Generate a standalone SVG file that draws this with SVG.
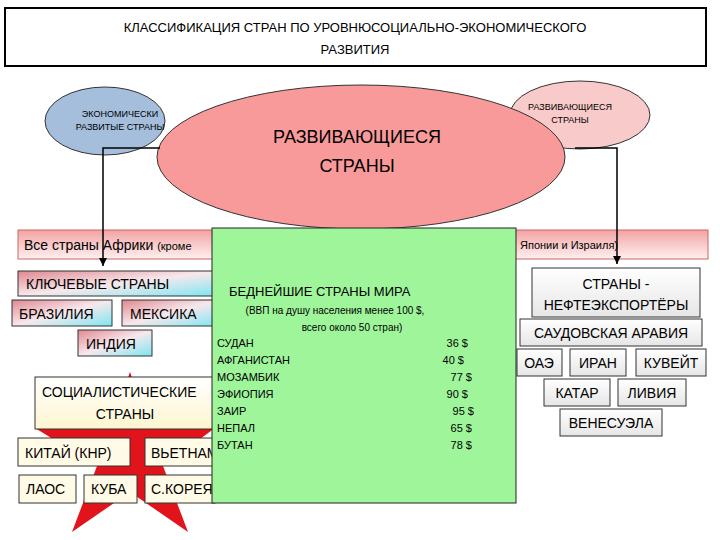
<svg xmlns="http://www.w3.org/2000/svg" width="720" height="540" viewBox="0 0 720 540">
<defs>
<linearGradient id="pk" x1="0" y1="0" x2="0" y2="1"><stop offset="0" stop-color="#f2a3a3"/><stop offset="1" stop-color="#fff0f0"/></linearGradient>
<linearGradient id="cy" x1="0" y1="0" x2="1" y2="1"><stop offset="0" stop-color="#e08890"/><stop offset="0.5" stop-color="#f7e8ec"/><stop offset="1" stop-color="#7de6f2"/></linearGradient>
<linearGradient id="gr" x1="0" y1="0" x2="0" y2="1"><stop offset="0" stop-color="#ffffff"/><stop offset="1" stop-color="#e6e6e6"/></linearGradient>
<linearGradient id="yl" x1="0" y1="0" x2="0" y2="1"><stop offset="0" stop-color="#ffffff"/><stop offset="1" stop-color="#fdf6d0"/></linearGradient>
<marker id="ar" markerWidth="8" markerHeight="8" refX="8" refY="4" orient="auto" markerUnits="userSpaceOnUse"><path d="M0,0 L8,4 L0,8 z" fill="#000"/></marker>
</defs>
<style>
text{font-family:"Liberation Sans","DejaVu Sans",sans-serif;fill:#000}
.b{stroke:#333;stroke-width:1}
.t{font-size:14px}
.s{font-size:11px}
</style>
<rect width="720" height="540" fill="#fff"/>
<g id="title"><rect x="5" y="8" width="701" height="58" fill="#fff" stroke="#000" stroke-width="2"/>
<text x="355" y="32" text-anchor="middle" font-size="13">КЛАССИФИКАЦИЯ СТРАН ПО УРОВНЮСОЦИАЛЬНО-ЭКОНОМИЧЕСКОГО</text>
<text x="355" y="54" text-anchor="middle" font-size="13">РАЗВИТИЯ</text></g>
<g id="dev-left"><ellipse cx="105" cy="121" rx="60" ry="34" fill="#a4bedc" stroke="#333"/>
<text x="120" y="117" text-anchor="middle" font-size="9">ЭКОНОМИЧЕСКИ</text><text x="120" y="130" text-anchor="middle" font-size="9">РАЗВИТЫЕ СТРАНЫ</text></g>
<g id="dev-right"><ellipse cx="580" cy="115" rx="70" ry="34" fill="#f9caca" stroke="#333"/>
<text x="570" y="110" text-anchor="middle" font-size="9">РАЗВИВАЮЩИЕСЯ</text><text x="570" y="123" text-anchor="middle" font-size="9">СТРАНЫ</text></g>
<g id="dev-main"><ellipse cx="361" cy="157" rx="204" ry="72" fill="#f99a9a" stroke="#333"/>
<text x="357" y="143" text-anchor="middle" font-size="18">РАЗВИВАЮЩИЕСЯ</text><text x="357" y="172" text-anchor="middle" font-size="18">СТРАНЫ</text></g>
<g id="africa"><rect x="18" y="230" width="690" height="29" fill="url(#pk)" stroke="#c66"/>
<text x="24" y="250" font-size="14">Все страны Африки <tspan font-size="11">(кроме</tspan></text>
<text x="520" y="249" font-size="11">Японии и Израиля)</text></g>
<g id="star"><polygon points="130,372 150,428 215,428 163,466 188,532 130,492 72,532 97,466 35,428 110,428" fill="#e0141a"/></g>
<g id="key"><rect x="18" y="271" width="200" height="25" fill="url(#cy)" class="b"/><text x="26" y="289" class="t">КЛЮЧЕВЫЕ СТРАНЫ</text>
<rect x="12" y="300" width="100" height="26" fill="url(#cy)" class="b"/><text x="19" y="319" class="t">БРАЗИЛИЯ</text>
<rect x="122" y="300" width="96" height="26" fill="url(#cy)" class="b"/><text x="130" y="319" class="t">МЕКСИКА</text>
<rect x="78" y="330" width="74" height="26" fill="url(#cy)" class="b"/><text x="86" y="349" class="t">ИНДИЯ</text></g>
<g id="social"><rect x="35" y="377" width="180" height="52" fill="url(#yl)" class="b"/>
<text x="42" y="397" class="t">СОЦИАЛИСТИЧЕСКИЕ</text><text x="125" y="419" text-anchor="middle" class="t">СТРАНЫ</text>
<rect x="18" y="438" width="112" height="28" fill="#fffbe6" class="b"/><text x="25" y="458" class="t">КИТАЙ (КНР)</text>
<rect x="145" y="438" width="70" height="28" fill="#fffbe6" class="b"/><text x="151" y="458" class="t">ВЬЕТНАМ</text>
<rect x="19" y="475" width="57" height="28" fill="#fffbe6" class="b"/><text x="26" y="494" class="t">ЛАОС</text>
<rect x="84" y="475" width="53" height="28" fill="#fffbe6" class="b"/><text x="91" y="494" class="t">КУБА</text>
<rect x="145" y="475" width="70" height="28" fill="#fffbe6" class="b"/><text x="151" y="494" class="t">С.КОРЕЯ</text></g>
<g id="oil"><rect x="532" y="268" width="168" height="49" fill="url(#gr)" class="b"/>
<text x="616" y="289" text-anchor="middle" class="t">СТРАНЫ -</text><text x="616" y="310" text-anchor="middle" class="t">НЕФТЕЭКСПОРТЁРЫ</text>
<rect x="520" y="319" width="182" height="27" fill="url(#gr)" class="b"/><text x="611" y="338" text-anchor="middle" class="t">САУДОВСКАЯ АРАВИЯ</text>
<rect x="517" y="349" width="45" height="27" fill="url(#gr)" class="b"/><text x="539" y="368" text-anchor="middle" class="t">ОАЭ</text>
<rect x="570" y="349" width="56" height="27" fill="url(#gr)" class="b"/><text x="598" y="368" text-anchor="middle" class="t">ИРАН</text>
<rect x="636" y="349" width="70" height="27" fill="url(#gr)" class="b"/><text x="671" y="368" text-anchor="middle" class="t">КУВЕЙТ</text>
<rect x="544" y="379" width="66" height="27" fill="url(#gr)" class="b"/><text x="577" y="398" text-anchor="middle" class="t">КАТАР</text>
<rect x="618" y="379" width="68" height="27" fill="url(#gr)" class="b"/><text x="652" y="398" text-anchor="middle" class="t">ЛИВИЯ</text>
<rect x="560" y="409" width="102" height="27" fill="url(#gr)" class="b"/><text x="611" y="428" text-anchor="middle" class="t">ВЕНЕСУЭЛА</text></g>
<g id="poor"><rect x="212" y="228" width="304" height="275" fill="#9ef59a" stroke="#222"/>
<text x="229" y="296" font-size="13">БЕДНЕЙШИЕ СТРАНЫ МИРА</text>
<text x="335" y="314" text-anchor="middle" font-size="10">(ВВП на душу населения менее 100 $,</text>
<text x="352" y="331" text-anchor="middle" font-size="10">всего около 50 стран)</text>
<g class="s"><text x="217" y="347">СУДАН</text><text x="217" y="364">АФГАНИСТАН</text><text x="217" y="381">МОЗАМБИК</text><text x="217" y="398">ЭФИОПИЯ</text><text x="217" y="415">ЗАИР</text><text x="217" y="432">НЕПАЛ</text><text x="217" y="449">БУТАН</text>
<g text-anchor="end"><text x="468" y="347">36 $</text><text x="464" y="364">40 $</text><text x="472" y="381">77 $</text><text x="468" y="398">90 $</text><text x="474" y="415">95 $</text><text x="472" y="432">65 $</text><text x="472" y="449">78 $</text></g></g></g>
<g id="connectors" fill="none" stroke="#000" stroke-width="1.5">
<path d="M160,148 H103 V266" marker-end="url(#ar)"/>
<path d="M575,148 H617 V264" marker-end="url(#ar)"/>
</g>
</svg>
